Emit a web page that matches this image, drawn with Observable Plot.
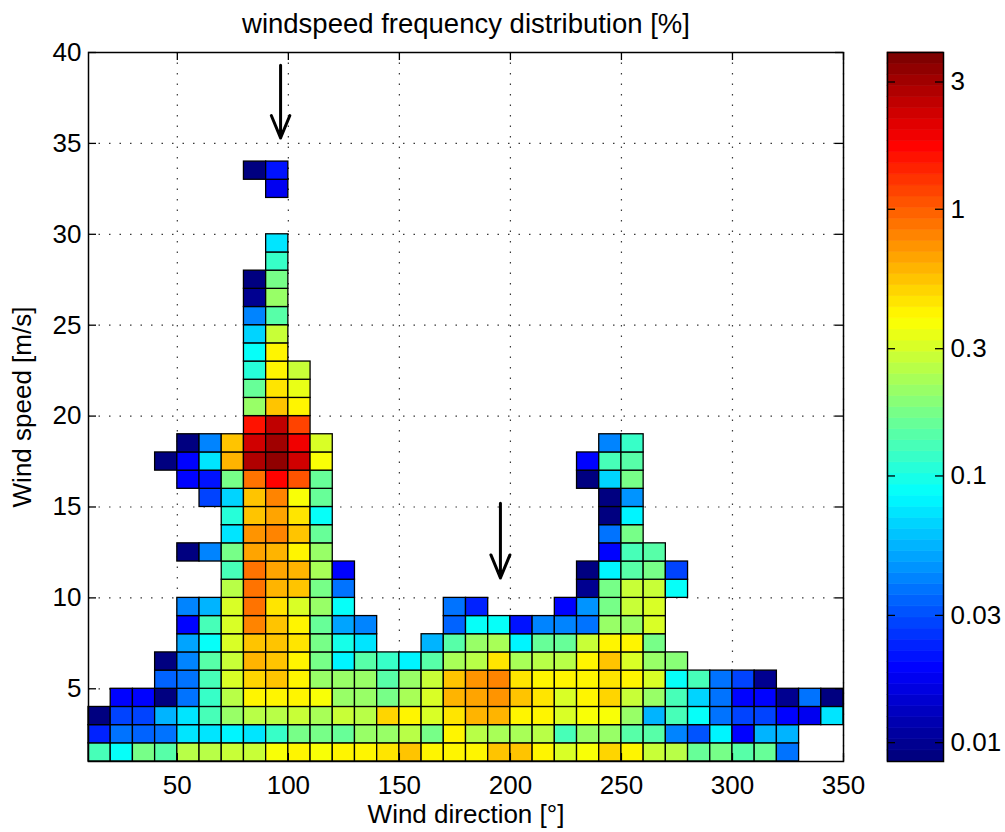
<!DOCTYPE html>
<html>
<head>
<meta charset="utf-8">
<script src="https://cdn.jsdelivr.net/npm/d3@7"></script>
<script src="https://cdn.jsdelivr.net/npm/@observablehq/plot@0.6"></script>
<style>
  html, body { margin: 0; padding: 0; background: #fff; }
  #wrap { position: relative; width: 1005px; height: 832px; overflow: hidden; }
  #main { position: absolute; left: 0; top: 0; }
  #bar { position: absolute; left: 870px; top: 0; }
</style>
</head>
<body>
<div id="wrap"><div id="main"></div><div id="bar"></div></div>
<script>
// ---- data: frequency [%] per 10° direction bin, listed from speed bin 1–2 m/s upward (null = empty)
const directions = [10,20,30,40,50,60,70,80,90,100,110,120,130,140,150,160,170,180,190,200,210,220,230,240,250,260,270,280,290,300,310,320,330,340];
const d010 = [0.13, 0.024, 0.009];
const d020 = [0.085, 0.036, 0.029, 0.019];
const d030 = [0.18, 0.033, 0.029, 0.019];
const d040 = [0.14, 0.036, 0.057, 0.009, 0.033, 0.009, null, null, null, null, null, null, null, null, null, null, 0.009];
const d050 = [0.26, 0.072, 0.075, 0.039, 0.036, 0.042, 0.05, 0.019, 0.04, null, null, 0.009, null, null, null, 0.02, 0.02, 0.009];
const d060 = [0.26, 0.075, 0.13, 0.12, 0.13, 0.14, 0.085, 0.13, 0.057, null, null, 0.04, null, null, 0.027, 0.022, 0.07, 0.042];
const d070 = [0.28, 0.08, 0.2, 0.26, 0.3, 0.28, 0.3, 0.3, 0.3, 0.26, 0.13, 0.18, 0.07, 0.11, 0.065, 0.18, 0.62, 0.57];
const d080 = [0.28, 0.072, 0.26, 0.39, 0.48, 0.62, 0.57, 0.78, 0.84, 0.84, 0.84, 0.66, 0.72, 0.57, 0.57, 0.84, 2.65, 2.3, 1.6, 0.21, 0.15, 0.11, 0.085, 0.065, 0.04, 0.01, 0.009, null, null, null, null, null, 0.009];
const d090 = [0.37, 0.12, 0.26, 0.39, 0.57, 0.52, 0.55, 0.52, 0.45, 0.62, 0.66, 0.6, 0.78, 0.66, 0.78, 1.75, 3.4, 3.0, 2.5, 0.57, 0.45, 0.42, 0.39, 0.28, 0.14, 0.2, 0.17, 0.12, 0.07, null, null, 0.017, 0.022];
const d100 = [0.39, 0.17, 0.28, 0.39, 0.42, 0.42, 0.45, 0.42, 0.3, 0.52, 0.6, 0.42, 0.52, 0.45, 0.37, 1.05, 2.3, 1.9, 1.15, 0.42, 0.33, 0.28];
const d110 = [0.37, 0.18, 0.24, 0.37, 0.21, 0.17, 0.18, 0.15, 0.2, 0.18, 0.24, 0.2, 0.15, 0.085, 0.15, 0.15, 0.37, 0.3];
const d120 = [0.41, 0.15, 0.27, 0.21, 0.2, 0.08, 0.1, 0.048, 0.085, 0.039, 0.02];
const d130 = [0.42, 0.2, 0.26, 0.21, 0.2, 0.14, 0.07, 0.042];
const d140 = [0.45, 0.2, 0.48, 0.18, 0.14, 0.12];
const d150 = [0.57, 0.26, 0.39, 0.24, 0.2, 0.08];
const d160 = [0.42, 0.17, 0.3, 0.3, 0.28, 0.14, 0.057];
const d170 = [0.42, 0.39, 0.45, 0.62, 0.52, 0.24, 0.14, 0.033, 0.036];
const d180 = [0.42, 0.26, 0.62, 0.66, 0.72, 0.26, 0.21, 0.085, 0.024];
const d190 = [0.52, 0.24, 0.62, 0.7, 0.78, 0.45, 0.22, 0.09];
const d200 = [0.52, 0.24, 0.42, 0.57, 0.45, 0.22, 0.08, 0.022];
const d210 = [0.42, 0.26, 0.42, 0.45, 0.42, 0.26, 0.15, 0.042];
const d220 = [0.3, 0.13, 0.3, 0.3, 0.42, 0.26, 0.15, 0.042, 0.02];
const d230 = [0.38, 0.21, 0.38, 0.4, 0.42, 0.42, 0.27, 0.039, 0.046, 0.01, 0.009, null, null, null, null, 0.009, 0.02];
const d240 = [0.48, 0.2, 0.37, 0.48, 0.45, 0.52, 0.39, 0.2, 0.17, 0.17, 0.08, 0.02, 0.039, 0.009, 0.009, 0.065, 0.13, 0.042];
const d250 = [0.42, 0.14, 0.2, 0.28, 0.39, 0.3, 0.39, 0.21, 0.28, 0.28, 0.14, 0.13, 0.18, 0.08, 0.046, 0.17, 0.14, 0.12];
const d260 = [0.28, 0.14, 0.057, 0.2, 0.3, 0.21, 0.18, 0.3, 0.3, 0.28, 0.18, 0.14];
const d270 = [0.26, 0.042, 0.13, 0.13, 0.085, 0.19, null, null, null, 0.085, 0.027];
const d280 = [0.15, 0.031, 0.085, 0.065, 0.13];
const d290 = [0.18, 0.08, 0.039, 0.036, 0.036];
const d300 = [0.14, 0.019, 0.027, 0.02, 0.027];
const d310 = [0.15, 0.057, 0.029, 0.019, 0.01];
const d320 = [0.036, 0.054, 0.019, 0.01];
const d330 = [null, null, 0.017, 0.036];
const d340 = [null, null, 0.072, 0.009];
const columns = [d010,d020,d030,d040,d050,d060,d070,d080,d090,d100,d110,d120,d130,d140,d150,d160,d170,d180,d190,d200,d210,d220,d230,d240,d250,d260,d270,d280,d290,d300,d310,d320,d330,d340];

const binWidth = 10;      // degrees
const binHeight = 1;      // m/s
const firstSpeed = 1;

const xTicks = [50, 100, 150, 200, 250, 300, 350];
const yTicks = [5, 10, 15, 20, 25, 30, 35, 40];
const colorTicks = [0.01, 0.03, 0.1, 0.3, 1, 3];
const colorDomain = [0.0085, 3.87];
const xDomain = [10, 350];
const yDomain = [1, 40];

const titleText = "windspeed frequency distribution [%]";
const xLabel = "Wind direction [°]";
const yLabel = "Wind speed [m/s]";

// annotation arrows (direction, start speed, end speed)
const arrowDirs = [96.5, 195.5];
const arrowFrom = [39.3, 15.2];
const arrowTo = [35.3, 11.1];

// ---- tables built from the arrays
const cells = [];
directions.forEach((d, i) => {
  columns[i].forEach((v, j) => {
    if (v != null) {
      const s = firstSpeed + j * binHeight;
      cells.push({dir: d, dir2: d + binWidth, speed: s, speed2: s + binHeight, value: v});
    }
  });
});
const arrows = arrowDirs.map((d, i) => ({dir: d, from: arrowFrom[i], to: arrowTo[i]}));

// MATLAB-like jet colormap, 64 levels
function jet(t) {
  t = Math.max(0, Math.min(1, t));
  const q = Math.min(63, Math.floor(t * 64));
  const u = q / 63;
  const c = x => Math.round(255 * Math.max(0, Math.min(1, x)));
  return `rgb(${c(1.5 - Math.abs(4 * u - 3))},${c(1.5 - Math.abs(4 * u - 2))},${c(1.5 - Math.abs(4 * u - 1))})`;
}
const colorOpts = {type: "log", domain: colorDomain, interpolate: jet, clamp: true};

const FONT = "'Liberation Sans', Arial, Helvetica, sans-serif";
const W = 870, H = 832, mL = 88, mR = 27, mT = 52, mB = 71;
const fw = W - mL - mR, fh = H - mT - mB;
const tickLen = 8;

const main = Plot.plot({
  width: W, height: H,
  marginLeft: mL, marginRight: mR, marginTop: mT, marginBottom: mB,
  style: {fontFamily: FONT, fontSize: "26px", color: "black", background: "white", overflow: "visible"},
  x: {domain: xDomain, axis: null},
  y: {domain: yDomain, axis: null},
  color: colorOpts,
  marks: [
    Plot.gridX(xTicks, {stroke: "#222", strokeOpacity: 0.9, strokeWidth: 1.2, strokeDasharray: "1.5,9"}),
    Plot.gridY(yTicks, {stroke: "#222", strokeOpacity: 0.9, strokeWidth: 1.2, strokeDasharray: "1.5,9"}),
    Plot.rect(cells, {x1: "dir", x2: "dir2", y1: "speed", y2: "speed2", fill: "value", stroke: "black", strokeWidth: 1.3}),
    Plot.tickX(xTicks, {x: d => d, insetTop: fh - tickLen, stroke: "black", strokeWidth: 1.3}),
    Plot.tickX(xTicks, {x: d => d, insetBottom: fh - tickLen, stroke: "black", strokeWidth: 1.3}),
    Plot.tickY(yTicks, {y: d => d, insetRight: fw - tickLen, stroke: "black", strokeWidth: 1.3}),
    Plot.tickY(yTicks, {y: d => d, insetLeft: fw - tickLen, stroke: "black", strokeWidth: 1.3}),
    Plot.frame({stroke: "black", strokeWidth: 1.5}),
    Plot.axisX(xTicks, {tickSize: 0, tickPadding: 14, fontSize: 26, label: null, fontFamily: FONT}),
    Plot.axisY(yTicks, {tickSize: 0, tickPadding: 7, fontSize: 26, label: null, fontFamily: FONT}),
    Plot.arrow(arrows, {x1: "dir", x2: "dir", y1: "from", y2: "to", stroke: "black", strokeWidth: 3, headLength: 13, headAngle: 45}),
    Plot.text([titleText], {text: d => d, frameAnchor: "top", lineAnchor: "middle", textAnchor: "middle", dy: -28, fontSize: 27.5, fontFamily: FONT}),
    Plot.text([xLabel], {text: d => d, frameAnchor: "bottom", lineAnchor: "middle", textAnchor: "middle", dy: 53, fontSize: 26, fontFamily: FONT}),
    Plot.text([yLabel], {text: d => d, frameAnchor: "left", lineAnchor: "middle", textAnchor: "middle", dx: -66, rotate: -90, fontSize: 26, fontFamily: FONT})
  ]
});
document.getElementById("main").appendChild(main);

// ---- colorbar
const nBands = 64;
const lo = Math.log10(colorDomain[0]), hi = Math.log10(colorDomain[1]);
const bands = d3.range(nBands).map(i => {
  const a = lo + (hi - lo) * i / nBands, b = lo + (hi - lo) * (i + 1) / nBands;
  return {y1: Math.pow(10, a), y2: Math.pow(10, b), v: Math.pow(10, (a + b) / 2)};
});
const cbW = 135, cbML = 17, cbMR = 62;
const cbInner = cbW - cbML - cbMR;
const bar = Plot.plot({
  width: cbW, height: H,
  marginLeft: cbML, marginRight: cbMR, marginTop: mT, marginBottom: mB,
  style: {fontFamily: FONT, fontSize: "26px", color: "black", background: "white", overflow: "visible"},
  x: {domain: [0, 1], axis: null},
  y: {type: "log", domain: colorDomain, axis: null},
  color: colorOpts,
  marks: [
    Plot.rect(bands, {x1: 0, x2: 1, y1: "y1", y2: "y2", fill: "v", stroke: "v", strokeWidth: 0.6}),
    Plot.tickY(colorTicks, {y: d => d, insetRight: cbInner - tickLen, stroke: "black", strokeWidth: 1.3}),
    Plot.tickY(colorTicks, {y: d => d, insetLeft: cbInner - tickLen, stroke: "black", strokeWidth: 1.3}),
    Plot.frame({stroke: "black", strokeWidth: 1.5}),
    Plot.axisY(colorTicks, {anchor: "right", tickSize: 0, tickPadding: 7, tickFormat: d => String(d), fontSize: 26, label: null, fontFamily: FONT})
  ]
});
document.getElementById("bar").appendChild(bar);
</script>
</body>
</html>
